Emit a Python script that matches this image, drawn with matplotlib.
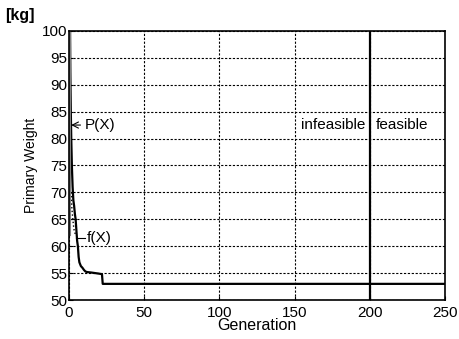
import matplotlib

matplotlib.use("Agg")
import matplotlib.pyplot as plt

# best-so-far penalised fitness P(X)
p_gen = [0.8, 1.0, 1.3, 1.6, 2.0, 2.5, 3.0, 3.5, 4.0, 4.5, 5.0, 5.5, 6.0, 6.5, 7.0,
         8.0, 9.0, 10.0, 11.0, 12.0, 15.0, 20.0, 22.0, 22.5, 200.0, 250.0]
p_val = [100.0, 92.0, 85.0, 80.0, 75.0, 71.0, 68.5, 67.5, 66.0, 65.0, 63.0, 61.0, 60.0, 58.0, 57.0,
         56.3, 56.0, 55.6, 55.3, 55.2, 55.1, 54.9, 54.8, 53.0, 53.0, 53.0]

# raw objective f(X)
f_gen = [1.5, 2.0, 2.5, 3.0, 3.5, 4.0, 4.5]
f_val = [70.0, 67.0, 65.5, 64.0, 63.0, 62.5, 62.0]

x_ticks = [0, 50, 100, 150, 200, 250]
y_ticks = [50, 55, 60, 65, 70, 75, 80, 85, 90, 95, 100]

plt.rcParams["font.family"] = ["Liberation Sans", "DejaVu Sans"]

fig = plt.figure(figsize=(4.59, 3.39), dpi=100)
ax = fig.add_axes([0.150, 0.115, 0.820, 0.794])

ax.plot(p_gen, p_val, color="black", linewidth=1.6)
ax.plot(f_gen, f_val, color="black", linewidth=1.0, linestyle=":")
ax.plot([0, 5], [65, 65], color="black", linewidth=0.8)
ax.plot([0.5, 0.5], [62, 100], color="gray", linewidth=1.5)
ax.axvline(200, color="black", linewidth=1.6)

ax.set_xlim(0, 250)
ax.set_ylim(50, 100)
ax.set_xticks(x_ticks)
ax.set_yticks(y_ticks)
ax.tick_params(direction="in", length=3, labelsize=11, pad=1)
ax.tick_params(axis="x", pad=4)
ax.grid(True, color="black", linestyle=(0, (2, 1.5)), linewidth=0.8)
for s in ax.spines.values():
    s.set_linewidth(1.2)

ax.set_xlabel("Generation", fontsize=11.5, labelpad=-1)
ax.set_ylabel("Primary Weight", fontsize=10, labelpad=3)
fig.text(0.012, 0.94, "[kg]", fontsize=11.5, fontweight="bold")

ax.annotate("P(X)", xy=(1.5, 82.5), xytext=(10.5, 82.5), fontsize=11, va="center",
            arrowprops=dict(arrowstyle="->", color="black", lw=0.8, shrinkA=1, shrinkB=0))
ax.plot([4.5, 11], [61.5, 61.5], color="black", linewidth=0.8)
ax.text(12, 61.5, "f(X)", fontsize=11, va="center")

ax.text(197, 82.5, "infeasible", fontsize=11, va="center", ha="right")
ax.text(204, 82.5, "feasible", fontsize=11, va="center", ha="left")

fig.savefig("out.png")
